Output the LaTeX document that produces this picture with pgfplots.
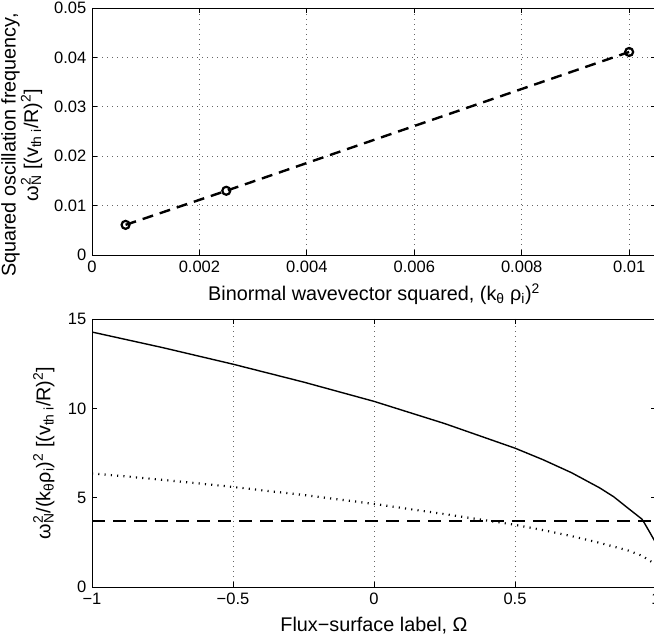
\documentclass[border=0pt]{standalone}
\usepackage{fontspec}
\setmainfont{Liberation Sans}
\usepackage{pgfplots}
\pgfplotsset{compat=1.18}
\newcommand\SupSub[2]{\rlap{\textsuperscript{#1}}\textsubscript{#2}}
\newcommand\tickf{\fontsize{16.5}{19}\selectfont}
\newcommand\labf{\fontsize{19.8}{21}\selectfont}
\begin{document}
\tickf
\begin{tikzpicture}[font=\tickf]
\useasboundingbox (0pt,0pt) rectangle (654pt,636pt);
\pgfplotsset{
  mstyle/.style={
    scale only axis, anchor=south west,
    axis line style={line width=0.9pt, black},
    tick align=inside, tick pos=both, major tick length=5pt,
    every tick/.style={line width=0.9pt, black},
    grid style={line width=0.8pt, black!60, dash pattern=on 0.8pt off 4.2pt},
    scaled ticks=false,
    tick label style={font=\tickf},
    label style={font=\labf},
    /pgf/number format/assume math mode=true,
    ylabel style={align=center},
  }
}
% top axis
\begin{axis}[mstyle, at={(92pt,381pt)}, width=564pt, height=247pt,
  xmin=0, xmax=0.0105, ymin=0, ymax=0.05,
  xtick={0,0.002,0.004,0.006,0.008,0.01},
  xticklabels={0,0.002,0.004,0.006,0.008,0.01},
  ytick={0,0.01,0.02,0.03,0.04,0.05},
  yticklabels={0,0.01,0.02,0.03,0.04,0.05},
  xmajorgrids, ymajorgrids,
  xlabel={Binormal wavevector squared, (k\textsubscript{θ} ρ\textsubscript{i})\textsuperscript{2}},
  ylabel={Squared oscillation frequency,\\ ω\SupSub{2}{N} [(v\textsubscript{th i}/R)\textsuperscript{2}]},
  ylabel style={at={(axis description cs:-0.161,0.445)}, anchor=north, inner sep=0pt,
    font=\fontsize{19.8}{14}\selectfont},
]
\addplot[black, line width=2.4pt, dash pattern=on 11pt off 7pt, mark=o, mark size=4pt,
  mark options={solid, line width=2.2pt}]
  coordinates {(0.000625,0.0061) (0.0025,0.0130) (0.01,0.0411)};
\end{axis}
% bottom axis
\begin{axis}[mstyle, at={(92pt,49pt)}, width=564pt, height=268pt,
  xmin=-1, xmax=1, ymin=0, ymax=15,
  xtick={-1,-0.5,0,0.5,1},
  xticklabels={−1,−0.5,0,0.5,1},
  ytick={0,5,10,15},
  yticklabels={0,5,10,15},
  xmajorgrids,
  xlabel={Flux−surface label, Ω},
  xlabel style={yshift=-2pt},
  ylabel={ω\SupSub{2}{N}/(k\textsubscript{θ}ρ\textsubscript{i})\textsuperscript{2} [(v\textsubscript{th i}/R)\textsuperscript{2}]},
  ylabel style={at={(axis description cs:-0.1046,0.5)}, anchor=north, inner sep=0pt},
]
\addplot[black, line width=1.4pt] coordinates {
(-1,14.27) (-0.75,13.40) (-0.5,12.47) (-0.25,11.47) (0,10.39) (0.25,9.15)
(0.5,7.77) (0.6,7.12) (0.7,6.40) (0.8,5.55) (0.85,5.05) (0.9,4.42)
(0.93,4.05) (0.95,3.80) (0.96,3.55) (0.98,3.00) (1.0,2.45)};
\addplot[black, line width=2.2pt, dash pattern=on 1.1pt off 5.2pt] coordinates {
(-1,6.36) (-0.75,6.00) (-0.5,5.60) (-0.25,5.15) (0,4.65) (0.25,4.08)
(0.5,3.48) (0.6,3.18) (0.7,2.85) (0.8,2.47) (0.9,2.05) (0.95,1.75) (1.0,1.25)};
\addplot[black, line width=1.4pt, dash pattern=on 13pt off 8pt] coordinates {
(-1,3.7) (1,3.7)};
\end{axis}
\end{tikzpicture}
\end{document}
